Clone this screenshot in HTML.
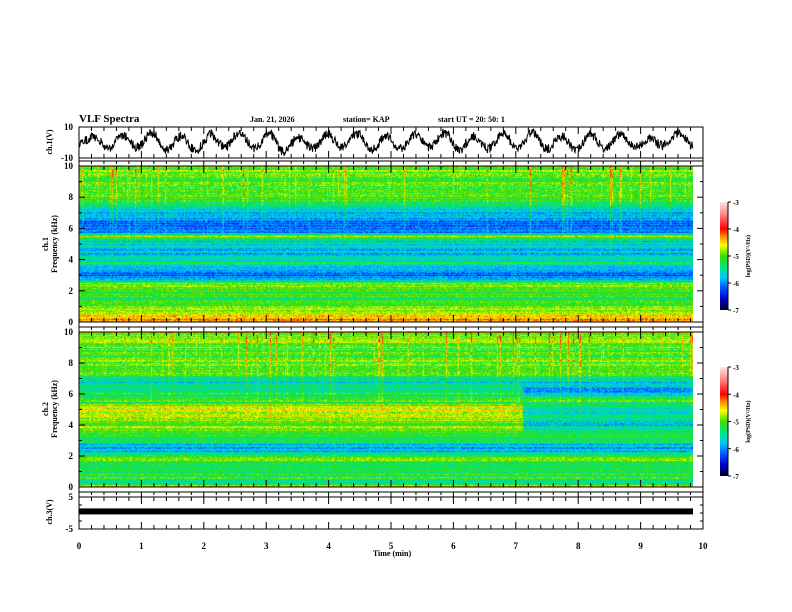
<!DOCTYPE html>
<html><head><meta charset="utf-8"><style>
html,body{margin:0;padding:0;background:#fff;}
#wrap{position:relative;width:792px;height:612px;overflow:hidden;font-family:"Liberation Serif",serif;}
canvas{position:absolute;}
svg{position:absolute;left:0;top:0;}
text{font-family:"Liberation Serif",serif;font-weight:bold;fill:#000;}
</style></head><body>
<div id="wrap">
<canvas id="sp1" width="614" height="156" style="left:79px;top:166px"></canvas>
<canvas id="sp2" width="614" height="155" style="left:79px;top:332px"></canvas>
<svg id="svg" width="792" height="612">
<defs>
<linearGradient id="cm" x1="0" y1="1" x2="0" y2="0">
<stop offset="0" stop-color="#000028"/><stop offset="0.1" stop-color="#0000c8"/><stop offset="0.2" stop-color="#0050ff"/>
<stop offset="0.3" stop-color="#00c8ff"/><stop offset="0.4" stop-color="#00e678"/><stop offset="0.5" stop-color="#3cdc00"/>
<stop offset="0.6" stop-color="#ffff00"/><stop offset="0.68" stop-color="#ff8c00"/><stop offset="0.75" stop-color="#ff0000"/>
<stop offset="0.87" stop-color="#ff7878"/><stop offset="1" stop-color="#ffe6e6"/>
</linearGradient></defs>
<text x="79" y="122" font-size="11">VLF Spectra</text>
<text x="250" y="122" font-size="8">Jan. 21, 2026</text>
<text x="343" y="122" font-size="8">station= KAP</text>
<text x="438" y="122" font-size="8">start  UT =  20: 50: 1</text>
<text x="392" y="556" font-size="8" text-anchor="middle">Time  (min)</text>
<text transform="translate(52,142) rotate(-90)" font-size="8" text-anchor="middle">ch.1(V)</text>
<text transform="translate(48,244) rotate(-90)" font-size="8" text-anchor="middle"><tspan x="0" dy="0">ch.1</tspan><tspan x="0" dy="9">Frequency  (kHz)</tspan></text>
<text transform="translate(48,409) rotate(-90)" font-size="8" text-anchor="middle"><tspan x="0" dy="0">ch.2</tspan><tspan x="0" dy="9">Frequency  (kHz)</tspan></text>
<text transform="translate(52,512) rotate(-90)" font-size="8" text-anchor="middle">ch.3(V)</text>
<g id="axes"></g>
<g id="cb1"></g>
<g id="cb2"></g>
</svg>
</div>
<script>
// ---- data ----
const timeTicks=[0,1,2,3,4,5,6,7,8,9,10];
const freqTicks=[0,2,4,6,8,10];
const cbTicks=[-3,-4,-5,-6,-7];
const dataEndMin=9.84;
// ch1 waveform, alternating peaks/troughs over time (V)
const ch1Wave=[-1,4,-4,5,-3,6,-5,4,-5,5,-3,7,-4,6,-6,3,-4,5,-3,6,-5,4,-4,5,-3,6,-5,4,-4,5,-3,6,-4,4,-5,5,-4,5,-3,2,-2,6,-2];
const ch3Level=0.5;
// spectral profiles: log PSD at 0,0.25,...,10 kHz
const ch1Profile=[-4.3,-4.5,-4.8,-4.9,-5.1,-5.2,-5.2,-5.1,-5.1,-4.8,-5.0,-6.0,-6.1,-6.0,-5.9,-5.2,-5.7,-5.7,-5.8,-5.7,-5.7,-5.6,-4.9,-6.1,-6.2,-6.2,-6.1,-5.7,-5.8,-5.7,-5.3,-5.2,-5.15,-5.1,-5.1,-5.05,-5.05,-5.0,-5.0,-4.95,-4.9];
const ch2Profile=[-4.4,-5.6,-5.2,-5.2,-5.1,-5.2,-5.1,-5.0,-5.2,-5.8,-5.8,-5.7,-5.1,-5.1,-5.0,-4.95,-4.95,-4.9,-4.75,-4.65,-4.6,-4.8,-5.15,-5.15,-5.15,-5.25,-5.6,-5.6,-5.5,-5.15,-5.1,-5.05,-5.05,-5.0,-5.0,-5.0,-4.95,-4.95,-4.9,-4.9,-4.8];
const ch2ProfileLate=[-4.4,-5.6,-5.2,-5.2,-5.1,-5.2,-5.1,-5.0,-5.2,-5.8,-5.8,-5.7,-5.1,-5.1,-5.2,-5.6,-5.7,-5.6,-5.4,-5.5,-5.6,-5.4,-5.15,-5.15,-5.7,-5.9,-5.9,-5.7,-5.5,-5.15,-5.1,-5.05,-5.05,-5.0,-5.0,-5.0,-4.95,-4.95,-4.9,-4.9,-4.8];
const ch2ChangeMin=7.1;

// ---- scales ----
const X0=79,X1=703;
const xs=t=>X0+(X1-X0)*t/10;
const panels={ch1:{top:127,bot:158},sp1:{top:166,bot:322},sp2:{top:332,bot:487},ch3:{top:497,bot:529}};
const NS="http://www.w3.org/2000/svg";
function el(tag,attrs,parent){const e=document.createElementNS(NS,tag);for(const k in attrs)e.setAttribute(k,attrs[k]);parent.appendChild(e);return e;}
const axes=document.getElementById('axes');

function hash(a,b){let h=(a*374761393+b*668265263)^0x5bd1e995;h=Math.imul(h^(h>>>13),1274126177);h=h^(h>>>16);return ((h>>>0)%10000)/10000;}
const stops=[[-7,[0,0,40]],[-6.6,[0,0,200]],[-6.2,[0,80,255]],[-5.8,[0,200,255]],[-5.4,[0,230,120]],[-5.0,[60,220,0]],[-4.6,[255,255,0]],[-4.3,[255,140,0]],[-4.0,[255,0,0]],[-3.5,[255,120,120]],[-3,[255,230,230]]];
function cmap(v){if(v<=-7)return stops[0][1];if(v>=-3)return stops[stops.length-1][1];
 for(let i=0;i<stops.length-1;i++){const a=stops[i],b=stops[i+1];if(v>=a[0]&&v<=b[0]){const f=(v-a[0])/(b[0]-a[0]);return a[1].map((c,j)=>Math.round(c+(b[1][j]-c)*f));}}}
function interpProfile(p,f){const i=f/0.25;const i0=Math.min(p.length-1,Math.floor(i)),i1=Math.min(p.length-1,i0+1);const fr=i-i0;return p[i0]+(p[i1]-p[i0])*fr;}

function drawSpec(id,panel,profile,late,seed){
 const c=document.getElementById(id),ctx=c.getContext('2d');const W=c.width,H=c.height;
 const img=ctx.createImageData(W,H);
 const wData=xs(dataEndMin)-X0;
 const streak=[];for(let x=0;x<W;x++){const r=hash(x,seed);streak.push(r>0.88?(r-0.88)*7:0);}
 for(let y=0;y<H;y++){const f=10*(1-y/(H-1));
  const p1=interpProfile(profile,f),p2=late?interpProfile(late,f):p1;
  const rowN=(hash(y,seed+7)-0.5)*0.5;
  for(let x=0;x<W;x++){const o=(y*W+x)*4;
   if(x>wData){img.data[o]=255;img.data[o+1]=255;img.data[o+2]=255;img.data[o+3]=255;continue;}
   const t=10*x/(X1-X0);
   let v=(late&&t>ch2ChangeMin)?p2:p1;
   v+=rowN+(hash(x*131+y,seed)-0.5)*0.55;
   if(f>3.5) v+=streak[x]*(f-3.5)/6.5;
   const col=cmap(v);img.data[o]=col[0];img.data[o+1]=col[1];img.data[o+2]=col[2];img.data[o+3]=255;}}
 ctx.putImageData(img,0,0);
}
drawSpec('sp1',panels.sp1,ch1Profile,null,11);
drawSpec('sp2',panels.sp2,ch2Profile,ch2ProfileLate,23);

// ---- frames and ticks ----
function frame(p,name){
 const r=el('rect',{x:X0,y:p.top,width:X1-X0,height:p.bot-p.top,fill:'none',stroke:'#000','stroke-width':1},axes);
 
 
 for(let i=0;i<=50;i++){const t=i*0.2,x=xs(t);const major=i%5===0;const L=major?7:4;
  el('line',{x1:x,y1:p.top,x2:x,y2:p.top+L,stroke:'#000','stroke-width':1},axes);
  el('line',{x1:x,y1:p.bot,x2:x,y2:p.bot-L,stroke:'#000','stroke-width':1},axes);}
}
frame(panels.ch1,'ch1-panel');frame(panels.sp1,'ch1-spectrogram-frame');frame(panels.sp2,'ch2-spectrogram-frame');frame(panels.ch3,'ch3-panel');
el('line',{x1:X0,y1:158,x2:X0,y2:497,stroke:'#000'},axes);
el('line',{x1:X1,y1:158,x2:X1,y2:497,stroke:'#000'},axes);
el('line',{x1:X0,y1:161,x2:X1,y2:161,stroke:'#000'},axes);
el('line',{x1:X0,y1:327,x2:X1,y2:327,stroke:'#000'},axes);
el('line',{x1:X0,y1:492,x2:X1,y2:492,stroke:'#000'},axes);
for(let i=0;i<=50;i++){const x=xs(i*0.2),L=i%5===0?5:3;
 [161,327,492].forEach(yy=>el('line',{x1:x,y1:yy,x2:x,y2:yy+L,stroke:'#000'},axes));}

timeTicks.forEach(t=>{const tx=el('text',{x:xs(t),y:549,'font-size':9,'text-anchor':'middle'},axes);tx.textContent=t;
 
 });

function freqAxis(p,name){const ys=f=>p.bot-(p.bot-p.top)*f/10;
 for(let f=0;f<=10;f+=1){const y=ys(f),L=f%2===0?6:3;
  el('line',{x1:X0,y1:y,x2:X0+L,y2:y,stroke:'#000'},axes);el('line',{x1:X1,y1:y,x2:X1-L,y2:y,stroke:'#000'},axes);}
 freqTicks.forEach(f=>{const tx=el('text',{x:X0-6,y:ys(f)+3,'font-size':9,'text-anchor':'end'},axes);tx.textContent=f;
  
  });}
freqAxis(panels.sp1,'ch1-freq-tick-label');freqAxis(panels.sp2,'ch2-freq-tick-label');

function vLabels(p,vals,name){vals.forEach(([v,y])=>{const tx=el('text',{x:X0-6,y:y+3,'font-size':9,'text-anchor':'end'},axes);tx.textContent=v;
 
 });}
vLabels(panels.ch1,[['10',panels.ch1.top],['-10',panels.ch1.bot]],'ch1-tick-label');
vLabels(panels.ch3,[['5',panels.ch3.top],['-5',panels.ch3.bot]],'ch3-tick-label');
[panels.ch3].forEach(p=>{for(let k=1;k<4;k++){const y=p.top+(p.bot-p.top)*k/4;el('line',{x1:X0,y1:y,x2:X0+3,y2:y,stroke:'#000'},axes);el('line',{x1:X1,y1:y,x2:X1-3,y2:y,stroke:'#000'},axes);}});

// ch1 waveform
const ych1=v=>panels.ch1.top+(panels.ch1.bot-panels.ch1.top)*(10-v)/20;
let pts=[];const n=ch1Wave.length;const span=xs(dataEndMin)-X0;
for(let x=0;x<=span;x+=0.5){const u=x/span*(n-1);const i=Math.min(n-2,Math.floor(u));const f=u-i;
 const base=ch1Wave[i]+(ch1Wave[i+1]-ch1Wave[i])*(0.5-0.5*Math.cos(Math.PI*f));
 const j1=(hash(Math.round(x*2),5)-0.5)*6;
 pts.push((X0+x).toFixed(1)+','+ych1(base+j1).toFixed(1));}
const wl=el('polyline',{points:pts.join(' '),fill:'none',stroke:'#000','stroke-width':1},axes);



// ch3 bar
const ych3=v=>panels.ch3.top+(panels.ch3.bot-panels.ch3.top)*(5-v)/10;
const bar=el('rect',{x:X0,y:ych3(ch3Level)-3,width:xs(dataEndMin)-X0,height:6,fill:'#000'},axes);



function colorbar(g,top,bot){const x=720,w=8;
 el('rect',{x:x,y:top,width:w,height:bot-top,fill:'url(#cm)'},g);
 el('line',{x1:x+w,y1:top,x2:x+w,y2:bot,stroke:'#000'},g);
 cbTicks.forEach(v=>{const y=top+(bot-top)*(-3-v)/4;el('line',{x1:x+w,y1:y,x2:x+w+3,y2:y,stroke:'#000'},g);
  const tx=el('text',{x:x+w+5,y:y+3,'font-size':7},g);tx.textContent=v;
  
  });
 const lt=el('text',{transform:`translate(${x+w+22},${(top+bot)/2}) rotate(-90)`,'font-size':6,'text-anchor':'middle'},g);
 lt.textContent='log(PSD)(V²/Hz)';
 
 }
colorbar(document.getElementById('cb1'),202,310);
colorbar(document.getElementById('cb2'),367,476);
</script>
</body></html>
